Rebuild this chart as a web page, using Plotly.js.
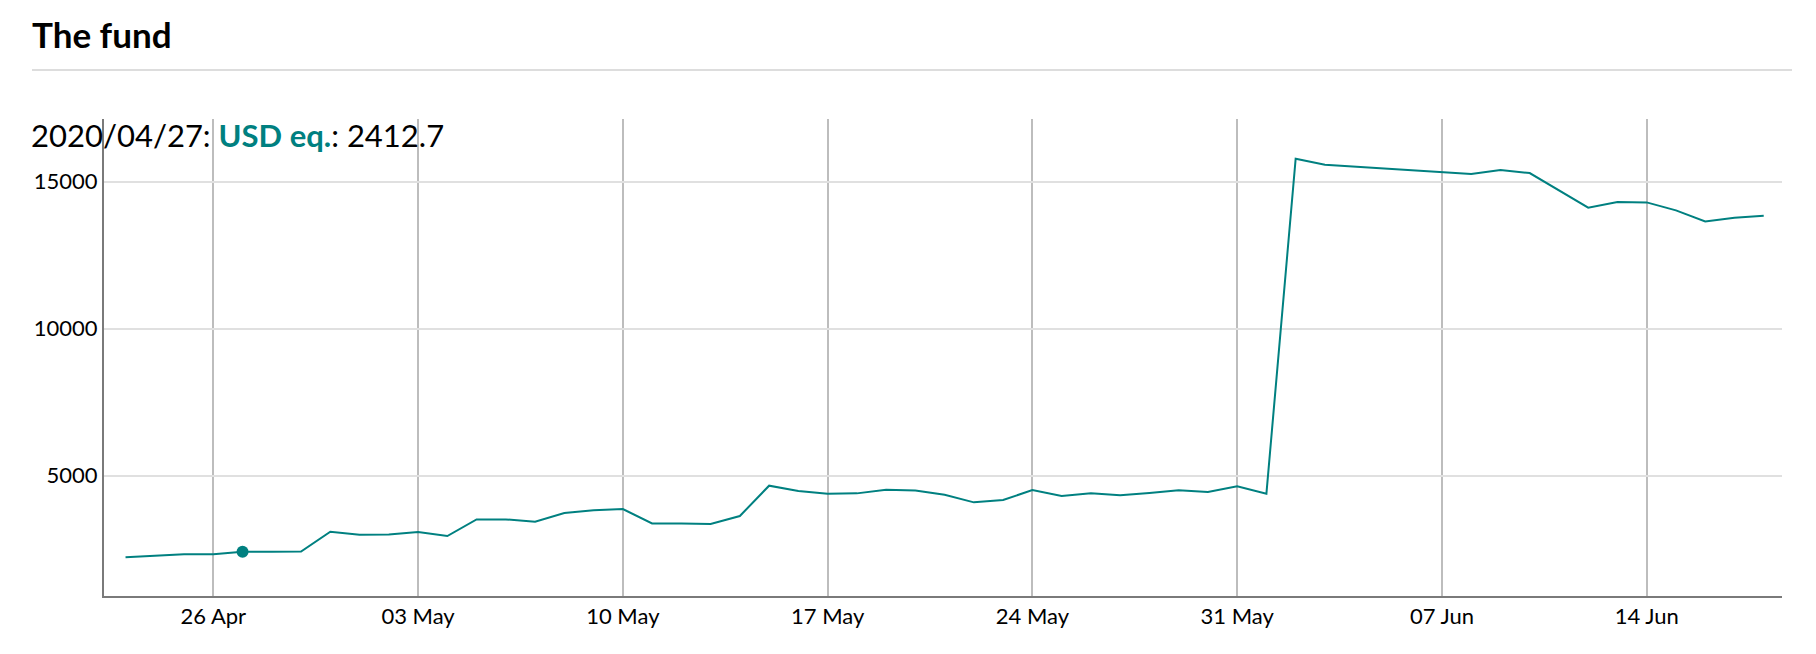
<!DOCTYPE html>
<html>
<head>
<meta charset="utf-8">
<script src="https://cdn.plot.ly/plotly-3.0.1.min.js"></script>
<style>
  html, body { margin: 0; padding: 0; background: #fff; }
  #fund { width: 1816px; height: 654px; }
</style>
</head>
<body>
<div id="fund"></div>
<script>
// daily fund value, USD equivalent (no readings for 04-07 Jun and 11 Jun)
const seriesName = 'USD eq.';
const dates = [
    '2020-04-23', '2020-04-25', '2020-04-26', '2020-04-27', '2020-04-28', '2020-04-29',
    '2020-04-30', '2020-05-01', '2020-05-02', '2020-05-03', '2020-05-04', '2020-05-05',
    '2020-05-06', '2020-05-07', '2020-05-08', '2020-05-09', '2020-05-10', '2020-05-11',
    '2020-05-12', '2020-05-13', '2020-05-14', '2020-05-15', '2020-05-16', '2020-05-17',
    '2020-05-18', '2020-05-19', '2020-05-20', '2020-05-21', '2020-05-22', '2020-05-23',
    '2020-05-24', '2020-05-25', '2020-05-26', '2020-05-27', '2020-05-28', '2020-05-29',
    '2020-05-30', '2020-05-31', '2020-06-01', '2020-06-02', '2020-06-03', '2020-06-08',
    '2020-06-09', '2020-06-10', '2020-06-12', '2020-06-13', '2020-06-14', '2020-06-15',
    '2020-06-16', '2020-06-17', '2020-06-18'
];
const values = [
    2222, 2324, 2324, 2412.7, 2414, 2420,
    3095, 2993, 3004, 3083, 2947, 3514,
    3514, 3435, 3730, 3821, 3866, 3378,
    3378, 3356, 3628, 4660, 4478, 4388,
    4399, 4524, 4495, 4354, 4093, 4172,
    4512, 4308, 4399, 4331, 4410, 4501,
    4444, 4637, 4388, 15782, 15578, 15261,
    15397, 15295, 14115, 14308, 14297, 14025,
    13651, 13775, 13843
];
const yTicks = [5000, 10000, 15000];
const selected = 3; // the point picked out under the title

const teal = '#008080';
const font = 'Lato, "Open Sans", sans-serif';

let line = {
    x: dates,
    y: values,
    mode: 'lines',
    type: 'scatter',
    name: seriesName,
    line: { color: teal, width: 2 },
    hoverinfo: 'skip'
};

let dot = {
    x: [dates[selected]],
    y: [values[selected]],
    mode: 'markers',
    type: 'scatter',
    marker: { color: teal, size: 12 },
    hoverinfo: 'skip'
};

let pickedDate = dates[selected].replace(/-/g, '/');
let readout = pickedDate + ': <b><span style="color:' + teal + '">' + seriesName +
    '</span></b>: ' + values[selected];

let layout = {
    width: 1816,
    height: 654,
    margin: { l: 104, r: 34, t: 119, b: 58 },
    paper_bgcolor: '#fff',
    plot_bgcolor: '#fff',
    showlegend: false,
    font: { family: font, size: 22, color: '#000' },
    title: {
        text: '<b>The fund</b>',
        font: { family: font, size: 35, color: '#000' },
        xref: 'container',
        x: 32 / 1816,
        xanchor: 'left',
        yref: 'container',
        y: 1 - 36 / 654,
        yanchor: 'middle'
    },
    xaxis: {
        type: 'date',
        range: ['2020-04-22 06:20', '2020-06-18 15:00'],
        tick0: '2020-04-26',
        dtick: 7 * 24 * 3600 * 1000,
        tickformat: '%d %b',
        showgrid: true,
        gridcolor: '#bdbdbd',
        gridwidth: 2,
        showline: true,
        linecolor: '#7a7a7a',
        linewidth: 2,
        zeroline: false,
        ticks: '',
        tickfont: { family: font, size: 22, color: '#000' },
        fixedrange: true
    },
    yaxis: {
        range: [908, 17133],
        tickvals: yTicks,
        tickformat: 'd',
        showgrid: true,
        gridcolor: '#e0e0e0',
        gridwidth: 2,
        showline: true,
        linecolor: '#7a7a7a',
        linewidth: 2,
        zeroline: false,
        ticks: '',
        tickfont: { family: font, size: 22, color: '#000' },
        fixedrange: true
    },
    shapes: [{
        type: 'line',
        xref: 'paper',
        yref: 'paper',
        x0: (32 - 104) / 1678,
        x1: (1792 - 104) / 1678,
        y0: (596 - 70) / 477,
        y1: (596 - 70) / 477,
        line: { color: '#dddddd', width: 2 }
    }],
    annotations: [{
        text: readout,
        xref: 'paper',
        yref: 'paper',
        x: (29 - 104) / 1678,
        xanchor: 'left',
        y: (596 - 135) / 477,
        yanchor: 'middle',
        showarrow: false,
        font: { family: font, size: 31, color: '#000' }
    }]
};

Plotly.newPlot('fund', [line, dot], layout, { displayModeBar: false, staticPlot: true });
</script>
</body>
</html>
